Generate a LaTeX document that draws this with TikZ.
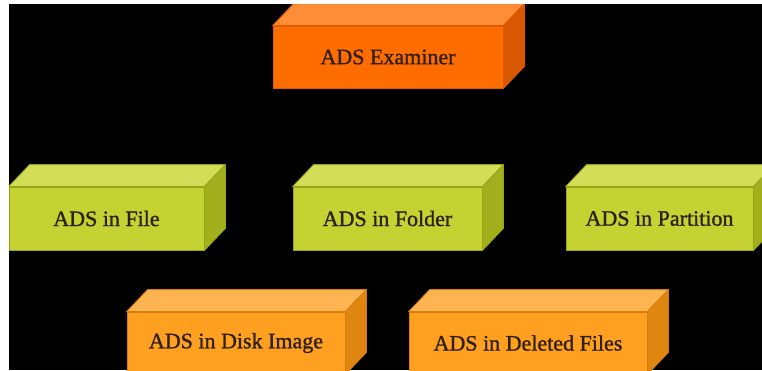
\documentclass[tikz,border=0pt]{standalone}
\usepackage{fontspec}
\setmainfont{Liberation Serif}
\newfontfamily\boxfont[FakeBold=1.2]{Liberation Serif}
\definecolor{exfront}{RGB}{255,108,0}
\definecolor{extop}{RGB}{255,140,55}
\definecolor{exside}{RGB}{215,88,0}
\definecolor{exline}{RGB}{225,90,0}
\definecolor{grfront}{RGB}{196,211,50}
\definecolor{grtop}{RGB}{210,222,88}
\definecolor{grside}{RGB}{162,176,30}
\definecolor{grline}{RGB}{150,165,22}
\definecolor{orfront}{RGB}{255,160,32}
\definecolor{ortop}{RGB}{255,180,82}
\definecolor{orside}{RGB}{222,134,16}
\definecolor{orline}{RGB}{215,125,10}
\definecolor{txt}{RGB}{48,32,16}
\tikzset{
  boxnode/.style={inner sep=0pt, line width=0.8pt, text=txt,
    font=\boxfont\fontsize{22}{26}\selectfont},
  facestyle/.style={line width=0.8pt, line join=round},
  link/.style={draw=black, line width=1pt}
}
\newcommand\mycuboid[7]{%
  \node[boxnode, fill=#6front, draw=#6line, minimum width=#4pt, minimum height=#5pt] (#1) at (#2,#3) {#7};
  \filldraw[facestyle, fill=#6top, draw=#6line] (#1.north west) -- ++(21,-22) -- ([shift={(21,-22)}]#1.north east) -- (#1.north east) -- cycle;
  \filldraw[facestyle, fill=#6side, draw=#6line] (#1.north east) -- ++(21,-22) -- ([shift={(21,-22)}]#1.south east) -- (#1.south east) -- cycle;
}
\begin{document}
\begin{tikzpicture}[x=1pt,y=-1pt]
\useasboundingbox (0,0) rectangle (762,370);
\fill[white] (0,0) rectangle (762,370);
\fill[black] (9,4) rectangle (762,370);
\clip (9,4) rectangle (762,370);
% connectors (black on black, as in the reference)
\coordinate (j1) at (388,125);
\coordinate (j2) at (388,270);
\node[inner sep=0pt, minimum size=0pt] (exb) at (388,88) {};
\node[inner sep=0pt, minimum size=0pt] (fib) at (127,165) {};
\node[inner sep=0pt, minimum size=0pt] (fob) at (388,165) {};
\node[inner sep=0pt, minimum size=0pt] (pab) at (640,165) {};
\node[inner sep=0pt, minimum size=0pt] (fos) at (388,250) {};
\node[inner sep=0pt, minimum size=0pt] (dib) at (257,290) {};
\node[inner sep=0pt, minimum size=0pt] (deb) at (548,290) {};
\draw[link] (exb) -- (j1) -| (fib);
\draw[link] (j1) -- (fob);
\draw[link] (j1) -| (pab);
\draw[link] (fos) -- (j2) -| (dib);
\draw[link] (j2) -| (deb);
% boxes
\mycuboid{ex}{388}{57}{230}{62}{ex}{ADS Examiner}
\mycuboid{fi}{106.5}{218.5}{195}{63}{gr}{ADS in File}
\mycuboid{fo}{387.5}{218.5}{189}{63}{gr}{ADS in Folder}
\mycuboid{pa}{659.5}{218.5}{187}{63}{gr}{ADS in Partition}
\mycuboid{di}{236}{343}{218}{62}{or}{ADS in Disk Image}
\mycuboid{de}{528}{343}{238}{62}{or}{ADS in Deleted Files}
\end{tikzpicture}
\end{document}
